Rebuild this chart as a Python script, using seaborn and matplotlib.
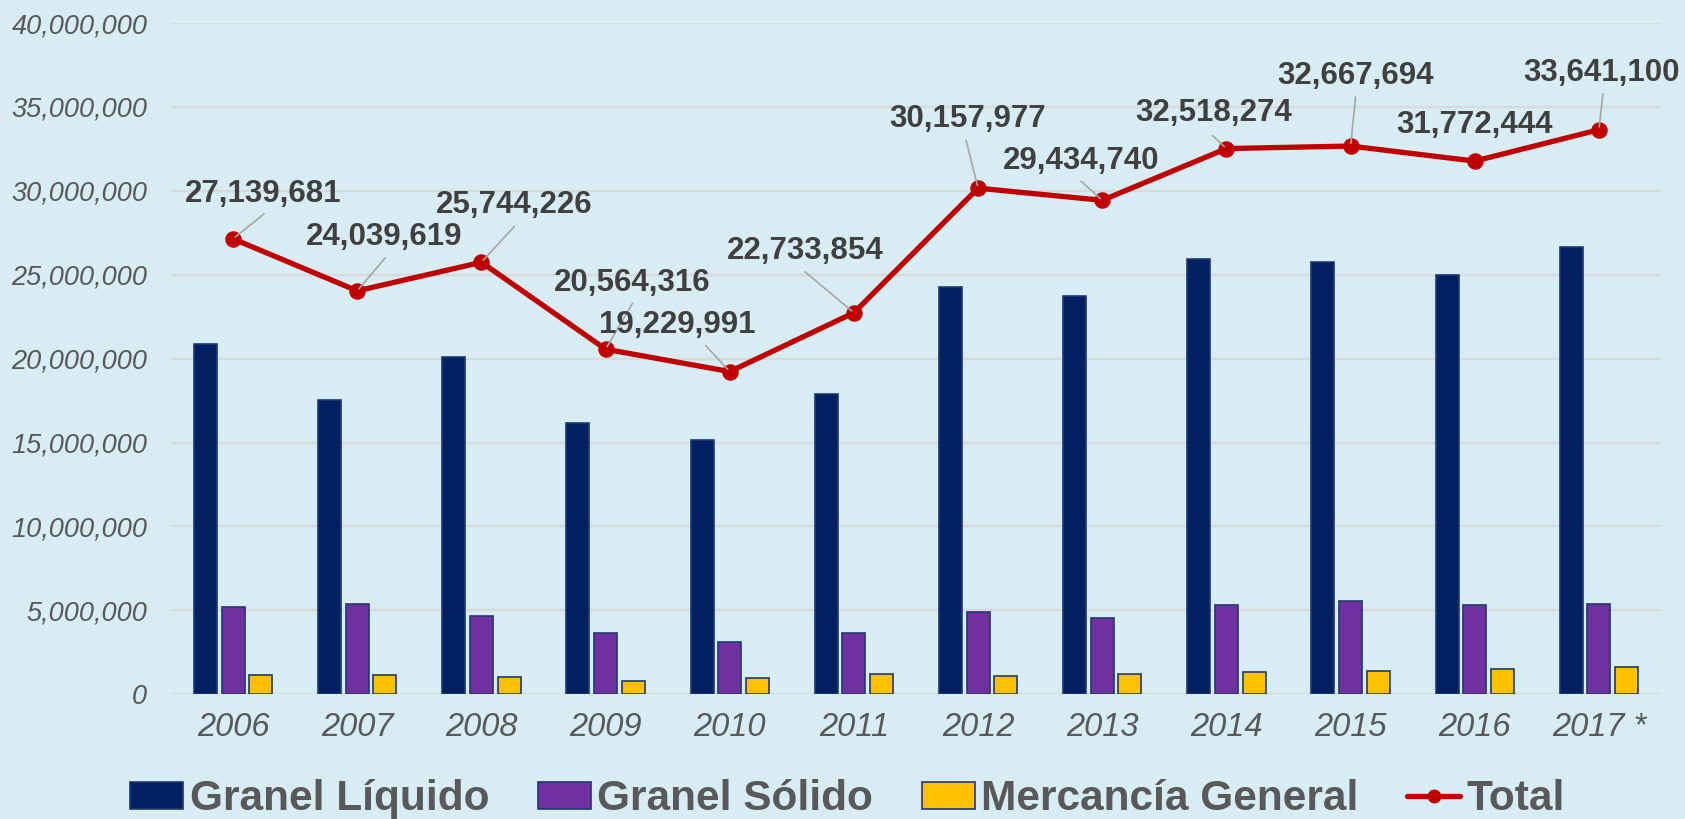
import numpy as np
import pandas as pd
import matplotlib
matplotlib.use("Agg")
import matplotlib.pyplot as plt
import seaborn as sns
from matplotlib.patches import Patch
from matplotlib.lines import Line2D
from matplotlib.ticker import FuncFormatter

# ---------------- data ----------------
years = ["2006", "2007", "2008", "2009", "2010", "2011",
         "2012", "2013", "2014", "2015", "2016", "2017 *"]
granel_liquido = [20850000, 17540000, 20100000, 16170000, 15130000, 17870000,
                  24240000, 23730000, 25930000, 25750000, 24980000, 26650000]
granel_solido = [5200000, 5380000, 4650000, 3640000, 3120000, 3670000,
                 4880000, 4530000, 5320000, 5560000, 5310000, 5410000]
mercancia_general = [1140000, 1160000, 1020000, 800000, 990000, 1200000,
                     1080000, 1200000, 1300000, 1380000, 1510000, 1630000]
total = [27139681, 24039619, 25744226, 20564316, 19229991, 22733854,
         30157977, 29434740, 32518274, 32667694, 31772444, 33641100]
series_names = ["Granel Líquido", "Granel Sólido", "Mercancía General"]
total_name = "Total"
y_ticks = [0, 5000000, 10000000, 15000000, 20000000, 25000000,
           30000000, 35000000, 40000000]

# ---------------- style ----------------
BG = "#D7ECF3"
colors = ["#002060", "#7030A0", "#FFC000"]
RED = "#C00000"
TXT = "#595959"
LBL = "#404040"

# label offsets (pixels) relative to marker: text centre, leader start
label_off = [(30, 45), (27, 54), (33, 57), (27, 66), (-53, 47), (-49, 62),
             (-11, 69), (-21, 39), (-13, 36), (5, 70), (0, 36), (3, 57)]
leader_off = [(31, 25), (28, 33), (33, 36), (27, 46), (-24, 26), (-49, 41),
              (-12, 48), (-21, 19), (-14, 13), (5, 49), None, (4, 36)]

sns.set_theme(style="white")
plt.rcParams["font.family"] = ["Liberation Sans", "DejaVu Sans"]

fig = plt.figure(figsize=(16.85, 8.19), dpi=100, facecolor=BG)
ax = fig.add_axes([171 / 1685, 1 - 694.3 / 819, 1490 / 1685, (694.3 - 23) / 819])
ax.set_facecolor(BG)

df = pd.DataFrame({
    "year": years * 3,
    "value": granel_liquido + granel_solido + mercancia_general,
    "serie": sum([[n] * len(years) for n in series_names], []),
})

sns.barplot(data=df, x="year", y="value", hue="serie", order=years,
            hue_order=series_names, palette=colors, width=0.67, gap=0.17,
            edgecolor="#1F3870", linewidth=1.2, saturation=1, ax=ax,
            legend=False)

df_t = pd.DataFrame({"year": years, "total": total})
sns.pointplot(data=df_t, x="year", y="total", order=years, color=RED,
              markers="o", markersize=9, linewidth=3.8, errorbar=None, ax=ax)

for i, v in enumerate(total):
    dx, dy = label_off[i]
    ax.annotate(f"{v:,}", xy=(i, v), xycoords="data",
                xytext=(dx, dy), textcoords="offset pixels",
                ha="center", va="center", fontsize=22.5, fontweight="bold",
                color=LBL, zorder=6)
    if leader_off[i] is not None:
        lx, ly = leader_off[i]
        ax.annotate("", xy=(i, v), xycoords="data",
                    xytext=(lx, ly), textcoords="offset pixels",
                    arrowprops=dict(arrowstyle="-", color="#A6A6A6", lw=1.2,
                                    shrinkA=0, shrinkB=2), zorder=5)

ax.set_ylim(0, 40000000)
ax.set_xlim(-0.5, len(years) - 0.5)
ax.set_yticks(y_ticks)
ax.yaxis.set_major_formatter(FuncFormatter(lambda v, p: f"{v:,.0f}"))
ax.yaxis.grid(True, color="#D9D9D9", linewidth=1.6)
ax.xaxis.grid(False)
ax.set_axisbelow(True)
for s in ax.spines.values():
    s.set_visible(False)
ax.tick_params(axis="y", length=0, pad=17, labelsize=19.5, labelcolor=TXT)
ax.tick_params(axis="x", length=0, pad=13, labelsize=23.5, labelcolor=TXT)
for t in ax.get_yticklabels() + ax.get_xticklabels():
    t.set_fontstyle("italic")
ax.set_xlabel("")
ax.set_ylabel("")

handles = [Patch(facecolor=c, edgecolor="#1F3870", linewidth=1.2) for c in colors]
handles.append(Line2D([0], [0], color=RED, lw=3.8, marker="o", markersize=9))
leg = fig.legend(handles, series_names + [total_name], loc="center",
                 bbox_to_anchor=(0.503, 0.024), ncol=4, frameon=False,
                 handlelength=1.25, handleheight=0.58, handletextpad=0.15,
                 columnspacing=1.15,
                 prop={"size": 30.5, "weight": "bold"})
for t in leg.get_texts():
    t.set_color(TXT)

fig.savefig("out.png", dpi=100, facecolor=BG)
